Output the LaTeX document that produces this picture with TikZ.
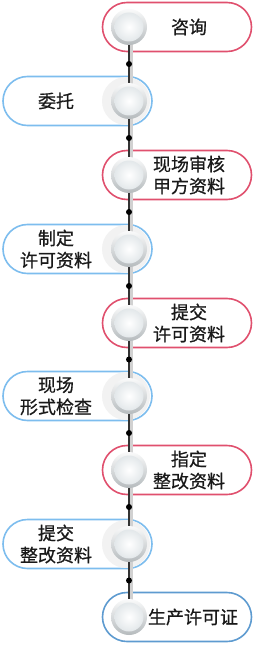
\documentclass[tikz,border=0pt]{standalone}
\usepackage{fontspec}
\setmainfont{Noto Sans CJK SC}
\newfontfamily\stepfont[FakeBold=0.7]{Noto Sans CJK SC}
\usetikzlibrary{shapes.misc}

\definecolor{pillred}{HTML}{E0506E}
\definecolor{pillblue}{HTML}{7DBDEE}
\definecolor{pillsteel}{HTML}{5E9BD0}
\definecolor{ringgray}{HTML}{C9CFD2}
\definecolor{discgray}{HTML}{DCE2E5}

\tikzset{
  pill/.style={rounded rectangle, line width=1.6pt, fill=white,
    minimum width=149pt, minimum height=49pt, inner sep=0pt},
  rightpill/.style={pill, draw=pillred},
  leftpill/.style={pill, draw=pillblue},
  lastpill/.style={pill, draw=pillsteel},
  knob/.style={circle, minimum size=36pt, inner sep=0pt,
    top color=white!90!ringgray, bottom color=ringgray!90!black,
    path picture={\shade[inner color=white, outer color=discgray]
      (path picture bounding box.center) circle (14.5pt);}},
  halo/.style={fill=black!5},
  steptext/.style={font=\stepfont\fontsize{18}{22}\selectfont, align=center, text=black!90},
  spine/.style={draw=black!80, line width=1.3pt},
  spineshadow/.style={draw=black!18, line width=3pt},
  dot/.style={circle, fill=black, minimum size=6pt, inner sep=0pt}
}

\begin{document}
\begin{tikzpicture}[x=1pt,y=-1pt]
\useasboundingbox (0,0) rectangle (256,650);

% Puntos del eje central
\coordinate (k1) at (129,27);
\coordinate (k2) at (129,101);
\coordinate (k3) at (129,175);
\coordinate (k4) at (129,249);
\coordinate (k5) at (129,323);
\coordinate (k6) at (129,396);
\coordinate (k7) at (129,470);
\coordinate (k8) at (129,544);
\coordinate (k9) at (129,617);

% Cajas de los pasos
\node[rightpill] (p1) at (177,27) {};
\node[leftpill]  (p2) at (77.5,101) {};
\node[rightpill] (p3) at (177,175) {};
\node[leftpill]  (p4) at (77.5,249) {};
\node[rightpill] (p5) at (177,323) {};
\node[leftpill]  (p6) at (77.5,396) {};
\node[rightpill] (p7) at (177,470) {};
\node[leftpill]  (p8) at (77.5,544) {};
\node[lastpill]  (p9) at (177,617) {};

% Halo de los pasos a la izquierda
\foreach \k in {k2,k4,k6,k8}
  \fill[halo] ([xshift=-3pt]\k) circle (24pt);

% Eje con sombra
\draw[spineshadow] ([xshift=2pt]k1) -- ([xshift=2pt]k9);
\draw[spine] (k1) -- node[dot] (d1) {} (k2)
                  -- node[dot] (d2) {} (k3)
                  -- node[dot] (d3) {} (k4)
                  -- node[dot] (d4) {} (k5)
                  -- node[dot] (d5) {} (k6)
                  -- node[dot] (d6) {} (k7)
                  -- node[dot] (d7) {} (k8)
                  -- node[dot] (d8) {} (k9);

% Botones
\foreach \k in {1,...,9}
  \node[knob] (c\k) at (k\k) {};

% Textos
\node[steptext] (t1) at (189,27) {咨询};
\node[steptext] (t2) at (56,101) {委托};
\node[steptext] (t3) at (189,175) {现场审核\\甲方资料};
\node[steptext] (t4) at (56,249) {制定\\许可资料};
\node[steptext] (t5) at (189,323) {提交\\许可资料};
\node[steptext] (t6) at (56,396) {现场\\形式检查};
\node[steptext] (t7) at (189,470) {指定\\整改资料};
\node[steptext] (t8) at (56,544) {提交\\整改资料};
\node[steptext] (t9) at (193,617) {生产许可证};

\end{tikzpicture}
\end{document}
